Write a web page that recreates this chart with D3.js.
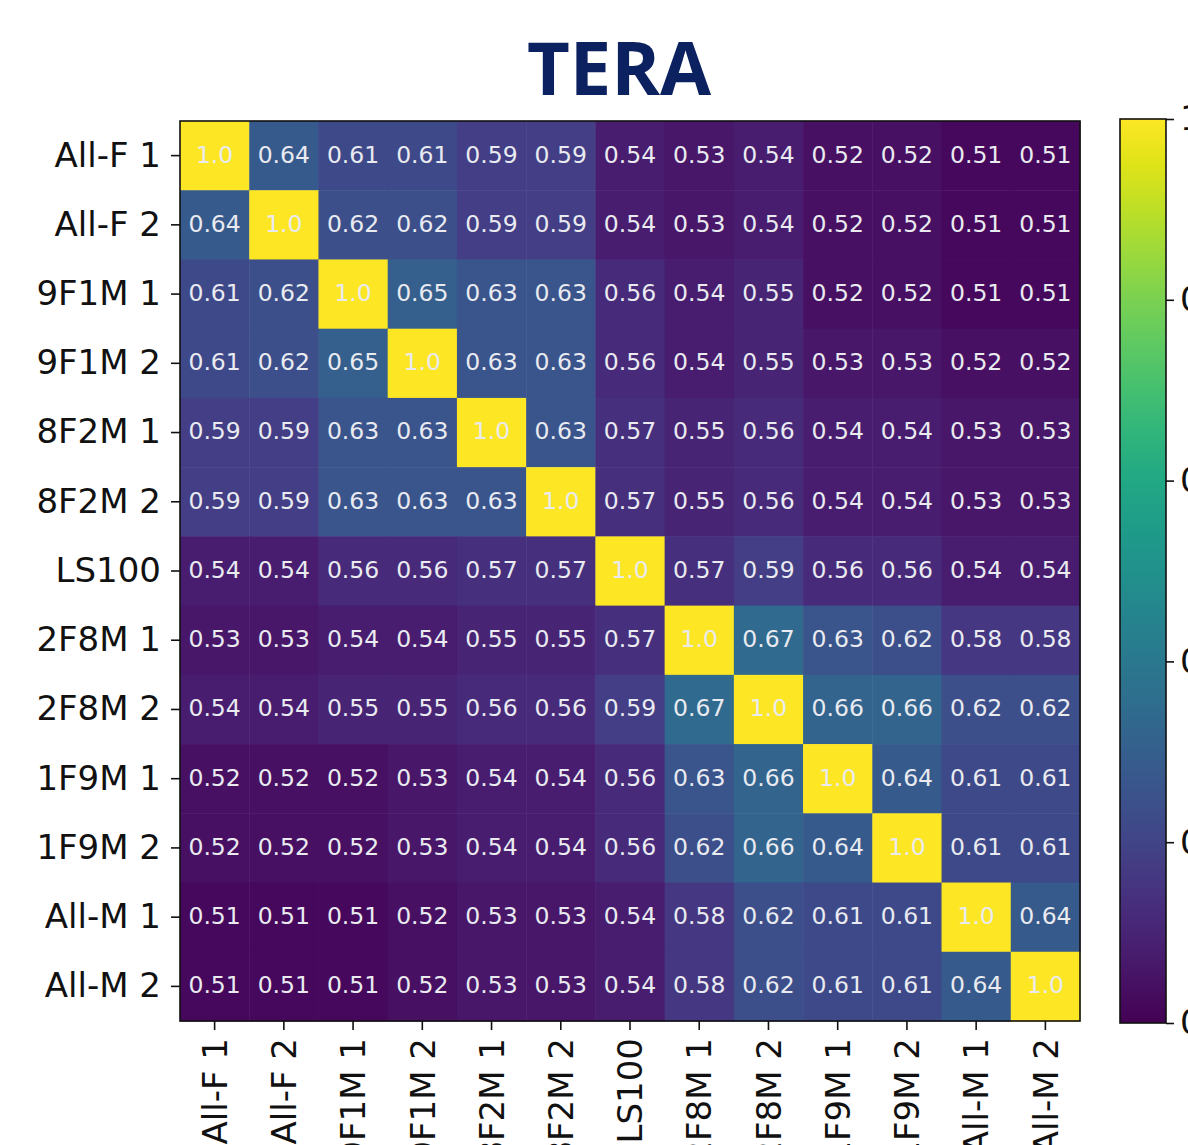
<!DOCTYPE html>
<html>
<head>
<meta charset="utf-8">
<script src="https://cdn.jsdelivr.net/npm/d3@7"></script>
<style>
  html, body { margin: 0; padding: 0; background: #ffffff; overflow: hidden; }
  svg { display: block; }
</style>
</head>
<body>
<svg id="chart" width="1188" height="1145"></svg>
<script>
// Row / column labels of the similarity matrix
const labels = ["All-F 1", "All-F 2", "9F1M 1", "9F1M 2", "8F2M 1", "8F2M 2", "LS100",
                "2F8M 1", "2F8M 2", "1F9M 1", "1F9M 2", "All-M 1", "All-M 2"];

// Pairwise similarity values, one array per row
const rowAllF1 = [1.0, 0.64, 0.61, 0.61, 0.59, 0.59, 0.54, 0.53, 0.54, 0.52, 0.52, 0.51, 0.51];
const rowAllF2 = [0.64, 1.0, 0.62, 0.62, 0.59, 0.59, 0.54, 0.53, 0.54, 0.52, 0.52, 0.51, 0.51];
const row9F1M1 = [0.61, 0.62, 1.0, 0.65, 0.63, 0.63, 0.56, 0.54, 0.55, 0.52, 0.52, 0.51, 0.51];
const row9F1M2 = [0.61, 0.62, 0.65, 1.0, 0.63, 0.63, 0.56, 0.54, 0.55, 0.53, 0.53, 0.52, 0.52];
const row8F2M1 = [0.59, 0.59, 0.63, 0.63, 1.0, 0.63, 0.57, 0.55, 0.56, 0.54, 0.54, 0.53, 0.53];
const row8F2M2 = [0.59, 0.59, 0.63, 0.63, 0.63, 1.0, 0.57, 0.55, 0.56, 0.54, 0.54, 0.53, 0.53];
const rowLS100 = [0.54, 0.54, 0.56, 0.56, 0.57, 0.57, 1.0, 0.57, 0.59, 0.56, 0.56, 0.54, 0.54];
const row2F8M1 = [0.53, 0.53, 0.54, 0.54, 0.55, 0.55, 0.57, 1.0, 0.67, 0.63, 0.62, 0.58, 0.58];
const row2F8M2 = [0.54, 0.54, 0.55, 0.55, 0.56, 0.56, 0.59, 0.67, 1.0, 0.66, 0.66, 0.62, 0.62];
const row1F9M1 = [0.52, 0.52, 0.52, 0.53, 0.54, 0.54, 0.56, 0.63, 0.66, 1.0, 0.64, 0.61, 0.61];
const row1F9M2 = [0.52, 0.52, 0.52, 0.53, 0.54, 0.54, 0.56, 0.62, 0.66, 0.64, 1.0, 0.61, 0.61];
const rowAllM1 = [0.51, 0.51, 0.51, 0.52, 0.53, 0.53, 0.54, 0.58, 0.62, 0.61, 0.61, 1.0, 0.64];
const rowAllM2 = [0.51, 0.51, 0.51, 0.52, 0.53, 0.53, 0.54, 0.58, 0.62, 0.61, 0.61, 0.64, 1.0];

const matrix = [rowAllF1, rowAllF2, row9F1M1, row9F1M2, row8F2M1, row8F2M2, rowLS100,
                row2F8M1, row2F8M2, row1F9M1, row1F9M2, rowAllM1, rowAllM2];

// Colour bar range and ticks
const colorDomain = [0.5, 1.0];
const colorTicks = [0.5, 0.6, 0.7, 0.8, 0.9, 1.0];

const titleText = "TERA";

// ---- layout ----
const svg = d3.select("#chart");
const plot = { left: 180, right: 1080, top: 121, bottom: 1021 };
const cbar = { left: 1120, right: 1166, top: 119, bottom: 1023 };
const labelFont = "'DejaVu Sans', sans-serif";

const x = d3.scaleBand().domain(labels).range([plot.left, plot.right]);
const y = d3.scaleBand().domain(labels).range([plot.top, plot.bottom]);
const color = d3.scaleSequential(d3.interpolateViridis).domain(colorDomain);

const cells = [];
matrix.forEach((row, i) => row.forEach((v, j) => cells.push({ r: labels[i], c: labels[j], v })));

const fmt = v => (v === 1 ? "1.0" : v.toFixed(2));

// Title
svg.append("text")
  .attr("x", 619).attr("y", 95)
  .attr("text-anchor", "middle")
  .attr("font-family", "'Open Sans', sans-serif")
  .attr("font-weight", 700)
  .attr("font-size", 74)
  .attr("fill", "#0b2160")
  .text(titleText);

// Heatmap cells
svg.append("g").selectAll("rect")
  .data(cells).join("rect")
  .attr("x", d => x(d.c))
  .attr("y", d => y(d.r))
  .attr("width", x.bandwidth() + 0.5)
  .attr("height", y.bandwidth() + 0.5)
  .attr("fill", d => color(d.v));

// Cell annotations
svg.append("g").selectAll("text")
  .data(cells).join("text")
  .attr("x", d => x(d.c) + x.bandwidth() / 2)
  .attr("y", d => y(d.r) + y.bandwidth() / 2 - 1.5)
  .attr("dy", "0.36em")
  .attr("text-anchor", "middle")
  .attr("font-family", labelFont)
  .attr("font-size", 23.5)
  .attr("fill", "#e9ebf0")
  .text(d => fmt(d.v));

// Plot frame
svg.append("rect")
  .attr("x", plot.left).attr("y", plot.top)
  .attr("width", plot.right - plot.left).attr("height", plot.bottom - plot.top)
  .attr("fill", "none").attr("stroke", "#111").attr("stroke-width", 1.6);

// Left axis
const yAxis = svg.append("g")
  .attr("transform", `translate(${plot.left},0)`)
  .call(d3.axisLeft(y).tickSize(9).tickPadding(10));
yAxis.select(".domain").remove();
yAxis.selectAll("line").attr("stroke", "#111").attr("stroke-width", 1.6);
yAxis.selectAll("text")
  .attr("font-family", labelFont).attr("font-size", 34).attr("fill", "#111");

// Bottom axis with vertical labels
const xAxis = svg.append("g")
  .attr("transform", `translate(0,${plot.bottom})`)
  .call(d3.axisBottom(x).tickSize(9).tickPadding(8));
xAxis.select(".domain").remove();
xAxis.selectAll("line").attr("stroke", "#111").attr("stroke-width", 1.6);
xAxis.selectAll("text")
  .attr("font-family", labelFont).attr("font-size", 34).attr("fill", "#111")
  .attr("text-anchor", "end")
  .attr("transform", "rotate(-90)")
  .attr("x", -17).attr("y", 0).attr("dy", "0.36em");

// Colour bar
const defs = svg.append("defs");
const grad = defs.append("linearGradient")
  .attr("id", "cbar-grad").attr("x1", 0).attr("y1", 1).attr("x2", 0).attr("y2", 0);
d3.range(0, 1.0001, 0.05).forEach(t => {
  grad.append("stop").attr("offset", t).attr("stop-color", d3.interpolateViridis(t));
});

const cbScale = d3.scaleLinear().domain(colorDomain).range([cbar.bottom, cbar.top]);

svg.append("rect")
  .attr("x", cbar.left).attr("y", cbar.top)
  .attr("width", cbar.right - cbar.left).attr("height", cbar.bottom - cbar.top)
  .attr("fill", "url(#cbar-grad)")
  .attr("stroke", "#111").attr("stroke-width", 1.6);

const cAxis = svg.append("g")
  .attr("transform", `translate(${cbar.right},0)`)
  .call(d3.axisRight(cbScale).tickValues(colorTicks).tickFormat(d3.format(".1f")).tickSize(8).tickPadding(6));
cAxis.select(".domain").remove();
cAxis.selectAll("line").attr("stroke", "#111").attr("stroke-width", 1.6);
cAxis.selectAll("text")
  .attr("font-family", labelFont).attr("font-size", 34).attr("fill", "#111");
</script>
</body>
</html>
